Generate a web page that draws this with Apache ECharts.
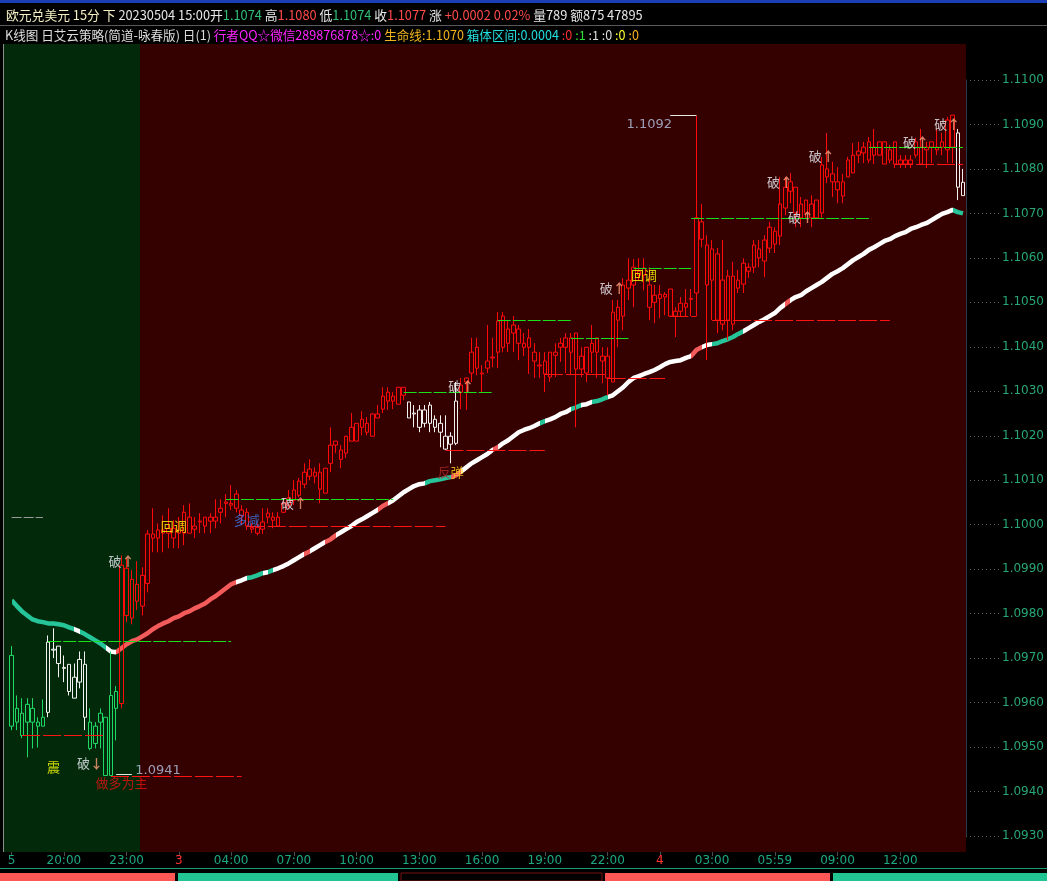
<!DOCTYPE html>
<html><head><meta charset="utf-8">
<script src="https://cdn.jsdelivr.net/npm/echarts/dist/echarts.min.js"></script>
<style>html,body{margin:0;padding:0;background:#000;overflow:hidden}#c{width:1047px;height:881px}</style>
</head><body><div id="c"></div><script>
// ---------------- DATA ----------------
const opens = [1.09706,1.09556,1.09576,1.09556,1.09587,1.09547,1.09547,1.09578,1.09718,1.09727,
1.09677,1.09686,1.09610,1.09646,1.09686,1.09556,1.09508,1.09556,1.09567,1.09436,
1.09625,1.09598,1.09902,1.09790,1.09866,1.09817,1.09868,1.09970,1.09970,1.09981,
1.09981,1.09992,1.09981,1.09981,1.10017,1.09990,1.10006,1.10017,1.10008,1.10008,
1.10028,1.10048,1.10044,1.10069,1.10033,1.10028,1.09990,1.09981,1.09990,1.10017,
1.10017,1.09997,1.10028,1.10044,1.10055,1.10066,1.10091,1.10109,1.10118,1.10118,
1.10071,1.10138,1.10188,1.10168,1.10161,1.10188,1.10188,1.10237,1.10228,1.10199,
1.10240,1.10260,1.10298,1.10289,1.10271,1.10309,1.10276,1.10251,1.10258,1.10228,
1.10269,1.10237,1.10228,1.10199,1.10181,1.10183,1.10298,1.10330,1.10341,1.10399,
1.10339,1.10352,1.10375,1.10388,1.10469,1.10408,1.10431,1.10440,1.10399,1.10420,
1.10388,1.10357,1.10368,1.10332,1.10381,1.10399,1.10420,1.10388,1.10431,1.10379,
1.10341,1.10388,1.10420,1.10379,1.10379,1.10321,1.10489,1.10469,1.10550,1.10539,
1.10561,1.10561,1.10539,1.10500,1.10509,1.10512,1.10530,1.10480,1.10480,1.10489,
1.10507,1.10521,1.10681,1.10629,1.10550,1.10609,1.10451,1.10559,1.10451,1.10550,
1.10541,1.10579,1.10579,1.10620,1.10593,1.10622,1.10660,1.10649,1.10712,1.10750,
1.10759,1.10690,1.10730,1.10690,1.10730,1.10701,1.10800,1.10789,1.10771,1.10739,
1.10782,1.10791,1.10840,1.10836,1.10861,1.10831,1.10831,1.10861,1.10820,1.10861,
1.10820,1.10811,1.10811,1.10831,1.10849,1.10843,1.10861,1.10843,1.10849,1.10843,
1.10921,1.10881,1.10740];
const closes = [1.09547,1.09587,1.09526,1.09596,1.09556,1.09556,1.09567,1.09736,1.09720,1.09688,
1.09679,1.09625,1.09657,1.09697,1.09567,1.09497,1.09547,1.09576,1.09436,1.09616,
1.09587,1.09909,1.09796,1.09877,1.09828,1.09886,1.09979,1.09979,1.09988,1.09988,
1.09992,1.09970,1.09988,1.10028,1.09981,1.09997,1.10008,1.09997,1.10017,1.10017,
1.10037,1.10051,1.10048,1.10037,1.10021,1.09997,1.09994,1.09994,1.10006,1.10026,
1.10010,1.10017,1.10048,1.10060,1.10078,1.10098,1.10118,1.10125,1.10109,1.10080,
1.10127,1.10179,1.10179,1.10147,1.10199,1.10219,1.10228,1.10219,1.10208,1.10249,
1.10249,1.10289,1.10278,1.10278,1.10309,1.10291,1.10240,1.10249,1.10219,1.10258,
1.10228,1.10219,1.10208,1.10170,1.10199,1.10278,1.10314,1.10321,1.10388,1.10352,
1.10341,1.10368,1.10377,1.10458,1.10399,1.10440,1.10449,1.10408,1.10408,1.10399,
1.10368,1.10359,1.10339,1.10388,1.10388,1.10408,1.10399,1.10420,1.10350,1.10350,
1.10399,1.10408,1.10388,1.10368,1.10330,1.10478,1.10460,1.10539,1.10532,1.10579,
1.10570,1.10577,1.10489,1.10516,1.10518,1.10518,1.10469,1.10469,1.10498,1.10498,
1.10509,1.10690,1.10642,1.10539,1.10620,1.10460,1.10550,1.10460,1.10559,1.10532,
1.10588,1.10570,1.10629,1.10600,1.10640,1.10669,1.10631,1.10721,1.10759,1.10771,
1.10701,1.10721,1.10701,1.10721,1.10690,1.10809,1.10782,1.10771,1.10753,1.10771,
1.10820,1.10831,1.10831,1.10849,1.10820,1.10849,1.10861,1.10811,1.10843,1.10811,
1.10811,1.10820,1.10820,1.10861,1.10811,1.10849,1.10849,1.10849,1.10861,1.10910,
1.10849,1.10759,1.10770];
const lows = [1.09538,1.09538,1.09520,1.09477,1.09497,1.09499,1.09547,1.09567,1.09700,1.09657,
1.09646,1.09616,1.09610,1.09632,1.09538,1.09493,1.09497,1.09497,1.09436,1.09436,
1.09515,1.09587,1.09781,1.09776,1.09808,1.09796,1.09848,1.09938,1.09938,1.09938,
1.09947,1.09947,1.09947,1.09954,1.09981,1.09970,1.09981,1.09981,1.09981,1.09992,
1.10003,1.10017,1.10033,1.10028,1.09999,1.09988,1.09981,1.09976,1.09979,1.10003,
1.09992,1.09997,1.10026,1.10037,1.10044,1.10062,1.10082,1.10100,1.10093,1.10048,
1.10071,1.10118,1.10161,1.10127,1.10150,1.10188,1.10188,1.10201,1.10201,1.10199,
1.10240,1.10251,1.10258,1.10260,1.10271,1.10280,1.10240,1.10219,1.10208,1.10219,
1.10208,1.10208,1.10174,1.10168,1.10138,1.10179,1.10260,1.10258,1.10321,1.10336,
1.10298,1.10341,1.10354,1.10352,1.10388,1.10388,1.10388,1.10370,1.10379,1.10339,
1.10330,1.10330,1.10298,1.10321,1.10332,1.10366,1.10341,1.10336,1.10219,1.10332,
1.10321,1.10341,1.10330,1.10318,1.10291,1.10321,1.10399,1.10437,1.10505,1.10489,
1.10550,1.10527,1.10460,1.10453,1.10464,1.10471,1.10467,1.10422,1.10467,1.10469,
1.10469,1.10469,1.10624,1.10370,1.10460,1.10431,1.10437,1.10415,1.10437,1.10521,
1.10521,1.10555,1.10566,1.10579,1.10557,1.10611,1.10611,1.10629,1.10696,1.10723,
1.10669,1.10669,1.10690,1.10669,1.10690,1.10690,1.10768,1.10737,1.10723,1.10723,
1.10782,1.10791,1.10813,1.10813,1.10813,1.10811,1.10831,1.10811,1.10813,1.10802,
1.10802,1.10802,1.10802,1.10825,1.10811,1.10802,1.10813,1.10831,1.10831,1.10813,
1.10813,1.10730,1.10740];
const highs = [1.09727,1.09616,1.09610,1.09610,1.09610,1.09567,1.09607,1.09751,1.09767,1.09727,
1.09706,1.09686,1.09688,1.09715,1.09715,1.09587,1.09556,1.09587,1.09567,1.09715,
1.09637,1.09931,1.09925,1.09898,1.09918,1.09904,1.09988,1.10037,1.10003,1.10021,
1.10037,1.10010,1.10017,1.10044,1.10048,1.10017,1.10026,1.10017,1.10026,1.10057,
1.10057,1.10069,1.10089,1.10078,1.10044,1.10037,1.10003,1.10003,1.10037,1.10037,
1.10028,1.10028,1.10060,1.10078,1.10100,1.10105,1.10138,1.10147,1.10129,1.10138,
1.10127,1.10219,1.10188,1.10179,1.10199,1.10251,1.10228,1.10255,1.10242,1.10251,
1.10269,1.10309,1.10309,1.10298,1.10309,1.10309,1.10276,1.10269,1.10269,1.10269,
1.10276,1.10246,1.10246,1.10246,1.10208,1.10321,1.10330,1.10330,1.10420,1.10420,
1.10359,1.10449,1.10420,1.10478,1.10478,1.10460,1.10469,1.10449,1.10431,1.10440,
1.10408,1.10388,1.10388,1.10388,1.10408,1.10420,1.10431,1.10431,1.10431,1.10399,
1.10399,1.10449,1.10420,1.10399,1.10399,1.10505,1.10505,1.10554,1.10599,1.10597,
1.10599,1.10599,1.10579,1.10539,1.10539,1.10523,1.10530,1.10489,1.10512,1.10530,
1.10530,1.10920,1.10721,1.10651,1.10640,1.10622,1.10640,1.10573,1.10591,1.10573,
1.10599,1.10588,1.10640,1.10640,1.10651,1.10681,1.10669,1.10782,1.10782,1.10791,
1.10759,1.10737,1.10730,1.10741,1.10730,1.10827,1.10881,1.10816,1.10804,1.10789,
1.10827,1.10858,1.10861,1.10861,1.10872,1.10890,1.10861,1.10861,1.10854,1.10861,
1.10831,1.10831,1.10831,1.10870,1.10890,1.10861,1.10861,1.10890,1.10881,1.10917,
1.10921,1.10890,1.10800];
// candle colour state runs: [startIndex, kind]  g=green, w=white, r=red
const candleKindRuns = [[0,'g'],[7,'w'],[15,'g'],[21,'r'],[76,'w'],[86,'r'],[181,'w']];
// 生命线 (life line)
const lifeLine = [1.09830,1.09817,1.09805,1.09796,1.09787,1.09783,1.09781,1.09778,1.09778,1.09776,
1.09774,1.09769,1.09765,1.09760,1.09754,1.09747,1.09740,1.09733,1.09724,1.09715,
1.09713,1.09722,1.09731,1.09738,1.09742,1.09749,1.09756,1.09765,1.09772,1.09778,
1.09783,1.09790,1.09794,1.09801,1.09805,1.09812,1.09817,1.09823,1.09832,1.09839,
1.09848,1.09857,1.09866,1.09871,1.09875,1.09880,1.09882,1.09886,1.09891,1.09893,
1.09898,1.09902,1.09907,1.09913,1.09920,1.09927,1.09934,1.09940,1.09947,1.09954,
1.09961,1.09967,1.09976,1.09983,1.09990,1.09997,1.10006,1.10012,1.10019,1.10026,
1.10033,1.10042,1.10048,1.10055,1.10064,1.10073,1.10080,1.10087,1.10091,1.10093,
1.10098,1.10100,1.10102,1.10105,1.10107,1.10111,1.10120,1.10129,1.10138,1.10145,
1.10152,1.10159,1.10168,1.10174,1.10183,1.10190,1.10199,1.10208,1.10213,1.10217,
1.10222,1.10228,1.10233,1.10237,1.10242,1.10249,1.10253,1.10260,1.10264,1.10269,
1.10271,1.10276,1.10278,1.10282,1.10287,1.10291,1.10300,1.10309,1.10321,1.10330,
1.10334,1.10339,1.10343,1.10348,1.10354,1.10361,1.10366,1.10368,1.10370,1.10375,
1.10379,1.10393,1.10399,1.10404,1.10406,1.10408,1.10413,1.10417,1.10422,1.10429,
1.10435,1.10442,1.10449,1.10456,1.10462,1.10469,1.10476,1.10487,1.10496,1.10505,
1.10512,1.10516,1.10525,1.10532,1.10539,1.10546,1.10555,1.10564,1.10570,1.10577,
1.10586,1.10595,1.10602,1.10609,1.10618,1.10624,1.10631,1.10638,1.10642,1.10649,
1.10654,1.10658,1.10665,1.10669,1.10674,1.10678,1.10685,1.10692,1.10699,1.10703,
1.10708,1.10703,1.10700];
// life line colour states: [from, to, kind]  t=teal, w=white, r=red
const lifeLineStates = [[0,12,'t'],[12,13,'w'],[13,18,'t'],[18,19.5,'w'],[19.5,43,'r'],[43,45,'w'],
[45,48,'t'],[48,49,'w'],[49,50,'t'],[50,56,'w'],[56,57,'r'],[57,60,'w'],[60,62,'r'],[62,70,'w'],
[70,72,'r'],[72,79,'w'],[79,84,'t'],[84,86,'r'],[86,92,'w'],[92,93,'r'],[93,101,'w'],[101,102,'t'],
[102,107,'w'],[107,109,'t'],[109,111,'w'],[111,114,'t'],[114,130,'w'],[130,132,'r'],[132,134,'w'],
[134,135.5,'t'],[135.5,136,'w'],[136,137.5,'t'],[137.5,138,'w'],[138,139.5,'t'],[139.5,147.5,'w'],
[147.5,149,'r'],[149,180,'w'],[180,183,'t']];
// horizontal levels: [fromIndex, toIndex, price, kind]
const levels = [[7,42,1.09738,'g'],[2,18,1.09526,'r'],[19,44,1.09434,'r'],[0,6,1.10017,'s'],
[45,83,1.09997,'r'],[41,73,1.10057,'g'],[75,92,1.10298,'g'],[83,102,1.10167,'r'],
[93,107,1.10460,'g'],[102,114,1.10339,'r'],[114,125,1.10330,'r'],[107,118,1.10420,'g'],
[119,130,1.10577,'g'],[126,131,1.10469,'r'],[134,168,1.10460,'r'],[130,164,1.10690,'g'],
[164,182,1.10849,'g'],[169,182,1.10811,'r'],[126,131,1.10920,'w'],[20,23,1.09438,'w']];
// annotations: [index, price, text, kind]
const notes = [[21,1.09918,'破↑','po'],[15,1.09465,'破↓','pod'],[8,1.09456,'震','yel'],
[21,1.09418,'做多为主','red'],[28,1.09447,'1.0941','px'],[31,1.09997,'回调','yel'],
[45,1.10010,'多减','blue'],[54,1.10048,'破↑','po'],[84,1.10118,'反弹','mix'],
[86,1.10311,'破↑','po'],[115,1.10532,'破↑','po'],[121,1.10561,'回调','yel'],
[122,1.10899,'1.1092','px'],[147,1.10770,'破↑','po'],[151,1.10692,'破↑','po'],
[155,1.10829,'破↑','po'],[173,1.10860,'破↑','po'],[179,1.10901,'破↑','po']];
// x tick labels
const tickIndex = [0,10,22,32,42,54,66,78,90,102,114,124,134,146,158,170];
const tickLabels = ['5','20:00','23:00','3','04:00','07:00','10:00','13:00','16:00','19:00','22:00','4','03:00','05:59','09:00','12:00'];

// ---------------- STYLE ----------------
const CANDLE = {g:'#1fd966', w:'#f2f2f2', r:'#ff0a0a'};
const LIFE = {t:'#25c499', w:'#ffffff', r:'#f45b5b'};
const LEVEL = {g:{color:'#19e019',type:[13,2]}, r:{color:'#ff1414',type:[18,3]}, s:{color:'#9a9a9a',type:[10,2]}, w:{color:'#e8e8e8',type:'solid'}};
const FONT = '"Noto Sans CJK SC", "Noto Sans", sans-serif';

function kindAt(i){ let k='r'; for (const [s,c] of candleKindRuns){ if (i>=s) k=c; } return k; }
const candleData = opens.map((o,i)=>{
  const col = CANDLE[kindAt(i)];
  return {value:[o, closes[i], lows[i], highs[i]],
    itemStyle:{color:'transparent', color0:col, borderColor:col, borderColor0:col, borderColorDoji:col, borderWidth:1}};
});
const categories = opens.map((_,i)=>String(i));
const tickMap = {}; tickIndex.forEach((t,k)=>tickMap[t]=tickLabels[k]);
const isTick = (idx)=> tickMap[idx]!==undefined;

const markLineData = levels.map(([a,b,p,k])=>[
  {coord:[a,p], lineStyle:{color:LEVEL[k].color, type:LEVEL[k].type, width:1}},
  {coord:[b,p]}
]);

const richNote = {
  w:{color:'#eef0f8', fontSize:13, fontFamily:FONT},
  a:{color:'#ff9d7a', fontSize:13, fontFamily:FONT, fontWeight:'bold'},
  y:{color:'#ffff00', fontSize:13, fontFamily:FONT},
  rd:{color:'#e81010', fontSize:13, fontFamily:FONT},
  b:{color:'#3f7cf0', fontSize:13, fontFamily:FONT},
  px:{color:'#b9c4e4', fontSize:13, fontFamily:'"DejaVu Sans", sans-serif'},
  m1:{color:'#b02828', fontSize:13, fontFamily:FONT},
  m2:{color:'#ffd21a', fontSize:13, fontFamily:FONT}
};
function noteText(t,k){
  if (k==='po' || k==='pod') return '{w|'+t[0]+'}{a|'+t.slice(1)+'}';
  if (k==='yel') return '{y|'+t+'}';
  if (k==='red') return '{rd|'+t+'}';
  if (k==='blue') return '{b|'+t+'}';
  if (k==='px') return '{px|'+t+'}';
  if (k==='mix') return '{m1|'+t[0]+'}{m2|'+t[1]+'}';
  return t;
}
const noteData = notes.map(([i,p,t,k])=>({value:[i,p], label:{formatter:noteText(t,k)}}));

const pieces = lifeLineStates.map(([a,b,k])=>({gte:a, lt:b, color:LIFE[k]}));

const chart = echarts.init(document.getElementById('c'), null, {renderer:'canvas'});
const HDR1 = '{y|欧元兑美元 15分 下} {w|20230504 15:00开}{g|1.1074} {w|高}{r|1.1080} {w|低}{g|1.1074} {w|收}{r|1.1077} {w|涨} {r|+0.0002 0.02%} {w|量789 额875 47895}';
const HDR2 = '{w|K线图 日艾云策略(简道-咏春版) 日(1)} {m|行者QQ☆微信289876878☆:0} {o|生命线:1.1070} {c|箱体区间:0.0004} {r|:0} {g|:1} {w|:1} {w|:0} {y|:0} {o2|:0}';
const hs1 = {fontSize:12.8, fontFamily:FONT};
const hs2 = {fontSize:12.6, fontFamily:FONT};
chart.setOption({
  backgroundColor:'#000',
  animation:false,
  graphic:[
    {type:'rect', shape:{x:0,y:0,width:1047,height:3}, style:{fill:'#1d3fb6'}, silent:true},
    {type:'rect', shape:{x:0,y:25,width:1047,height:1}, style:{fill:'#5a5a5a'}, silent:true},
    {type:'text', x:6, y:15, style:{text:HDR1, verticalAlign:'middle', fontSize:12.8, fontFamily:FONT, fill:'#e6e6e6',
      rich:{y:{...hs1,fill:'#f4efc4'}, w:{...hs1,fill:'#e6e6e6'}, g:{...hs1,fill:'#2fbf77'}, r:{...hs1,fill:'#ff4a4a'}}}},
    {type:'text', x:5, y:35, style:{text:HDR2, verticalAlign:'middle', fontSize:12.6, fontFamily:FONT, fill:'#dedede',
      rich:{w:{...hs2,fill:'#dedede'}, m:{...hs2,fill:'#ff24ff'}, o:{...hs2,fill:'#f0b41c'}, c:{...hs2,fill:'#24dede'},
            r:{...hs2,fill:'#ff3030'}, g:{...hs2,fill:'#30e030'}, y:{...hs2,fill:'#ffff30'}, o2:{...hs2,fill:'#ffb020'}}}},
    {type:'rect', shape:{x:4,y:44,width:136,height:808}, style:{fill:'#022a0a'}, silent:true, z:-10},
    {type:'rect', shape:{x:140,y:44,width:826,height:808}, style:{fill:'#340000'}, silent:true, z:-10},
    {type:'rect', shape:{x:3,y:44,width:1,height:808}, style:{fill:'#8c8c8c'}, silent:true, z:-9},
    {type:'rect', shape:{x:0,y:868,width:1047,height:1}, style:{fill:'#1a9e78'}, silent:true},
    {type:'rect', shape:{x:0,y:873,width:175,height:8}, style:{fill:'#ff5656'}, silent:true},
    {type:'rect', shape:{x:178,y:873,width:220,height:8}, style:{fill:'#22c493'}, silent:true},
    {type:'rect', shape:{x:401,y:873,width:201,height:8}, style:{fill:'#000', stroke:'#7a1010', lineWidth:1}, silent:true},
    {type:'rect', shape:{x:605,y:873,width:225,height:8}, style:{fill:'#ff5656'}, silent:true},
    {type:'rect', shape:{x:833,y:873,width:214,height:8}, style:{fill:'#22c493'}, silent:true}
  ],
  grid:[{left:9, right:81.4, top:80, bottom:45}, {left:966, right:44, top:80, bottom:45}],
  xAxis:[
    {type:'category', gridIndex:0, data:categories, boundaryGap:true, offset:16,
     axisLine:{show:false},
     axisTick:{show:true, interval:(i)=>isTick(i), alignWithLabel:true, length:4, lineStyle:{color:'#4d4d4d'}},
     axisLabel:{interval:(i)=>isTick(i), margin:3, fontSize:12, fontFamily:'"DejaVu Sans", sans-serif', color:'#1ea882',
       formatter:(v,idx)=>{ const t=tickMap[idx]; if (t===undefined) return ''; return (t==='3'||t==='4') ? '{r|'+t+'}' : t; },
       rich:{r:{color:'#ff3232', fontSize:12, fontFamily:'"DejaVu Sans", sans-serif'}}},
     splitLine:{show:false}},
    {type:'value', gridIndex:1, show:false, min:0, max:1}
  ],
  yAxis:[
    {type:'value', gridIndex:0, min:1.0930, max:1.1100, interval:0.001, show:false},
    {type:'value', gridIndex:1, min:1.0930, max:1.1100, interval:0.001, position:'right',
     axisLine:{show:true, lineStyle:{color:'#2c3a47'}}, axisTick:{show:false},
     axisLabel:{color:'#28a676', fontSize:12, margin:3, fontFamily:'"DejaVu Sans", sans-serif', formatter:(v)=>v.toFixed(4)},
     splitLine:{show:true, lineStyle:{color:'#5e5e5e', type:[1,3], width:1}}}
  ],
  visualMap:{type:'piecewise', show:false, dimension:0, seriesIndex:1, pieces:pieces},
  series:[
    {type:'candlestick', name:'K线', xAxisIndex:0, yAxisIndex:0, data:candleData, barWidth:4, z:3,
     markLine:{silent:true, symbol:['none','none'], label:{show:false}, animation:false, data:markLineData}},
    {type:'line', name:'生命线', xAxisIndex:0, yAxisIndex:0, data:lifeLine, showSymbol:false, symbol:'none', z:2,
     lineStyle:{width:4.5}},
    {type:'scatter', name:'notes', xAxisIndex:0, yAxisIndex:0, data:noteData, symbolSize:0, z:5, silent:true,
     label:{show:true, position:'inside', rich:richNote}}
  ]
});
</script></body></html>
